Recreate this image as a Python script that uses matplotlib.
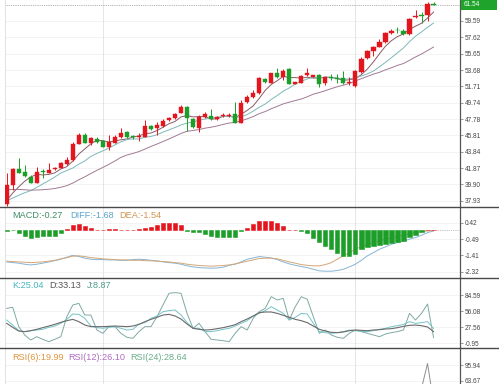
import matplotlib
matplotlib.use("Agg")
import matplotlib.pyplot as plt
import numpy as np
import pandas as pd
from matplotlib.lines import Line2D
from matplotlib.patches import Rectangle

# ---------------- data ----------------
opens = [37.5, 39.85, 41.77, 41.45, 40.85, 40.13, 41.5, 41.33, 41.8, 41.85,
         42.38, 42.86, 44.78, 45.87, 44.94, 45.34, 45.14, 44.46, 44.94, 45.58,
         46.19, 45.7, 45.58, 45.66, 46.99, 46.67, 46.95, 47.67, 47.87, 48.55,
         49.27, 47.79, 46.75, 48.07, 48.15, 47.79, 48.17, 48.15, 48.35, 47.35,
         49.87, 50.48, 50.88, 52.56, 52.16, 53.36, 52.8, 53.76, 52.0, 52.16,
         53.08, 52.88, 53.12, 52.16, 52.84, 52.7, 52.68, 52.08, 51.76, 53.48,
         55.09, 56.0, 56.49, 57.01, 58.1, 58.55, 58.37, 57.97, 60.02, 60.3,
         60.3, 61.62]
highs = [41.25, 41.85, 43.06, 42.25, 41.05, 42.05, 41.77, 42.46, 41.95, 42.66,
         43.26, 45.06, 46.15, 46.15, 45.66, 45.66, 45.26, 45.87, 45.87, 46.67,
         46.39, 45.87, 46.07, 47.67, 47.07, 47.47, 47.79, 47.99, 48.47, 49.47,
         49.35, 47.87, 48.27, 48.67, 48.95, 48.15, 48.47, 48.55, 49.87, 50.07,
         50.68, 51.28, 52.88, 52.68, 53.36, 53.88, 53.76, 53.88, 52.28, 53.08,
         53.88, 53.12, 53.2, 52.88, 53.2, 53.2, 53.6, 52.88, 53.68, 55.2,
         56.09, 56.6, 57.37, 58.26, 58.58, 58.82, 58.58, 59.9, 60.9, 60.7,
         61.9, 61.9]
lows = [37.3, 39.25, 41.25, 40.85, 40.05, 40.05, 40.65, 41.25, 41.65, 41.85,
        42.25, 42.78, 44.78, 44.86, 44.66, 44.94, 44.38, 44.06, 44.86, 45.54,
        45.46, 45.34, 45.18, 45.58, 46.47, 45.87, 46.87, 47.59, 47.79, 48.47,
        46.39, 46.67, 46.27, 47.87, 47.67, 47.67, 48.07, 47.99, 47.27, 47.27,
        49.67, 50.36, 50.8, 52.08, 52.08, 52.68, 52.48, 51.96, 51.96, 52.08,
        52.96, 52.8, 51.6, 51.88, 52.48, 52.08, 52.0, 51.88, 51.6, 53.36,
        54.97, 55.37, 56.41, 56.9, 58.0, 58.17, 57.9, 57.9, 59.9, 59.3,
        59.62, 61.5]
closes = [39.85, 41.77, 41.33, 40.93, 40.13, 41.45, 41.4, 41.65, 41.87, 42.46,
          42.86, 44.78, 45.87, 44.94, 45.54, 45.06, 44.46, 45.06, 45.66, 46.15,
          45.58, 45.62, 45.74, 46.99, 46.55, 47.07, 47.59, 47.87, 48.39, 49.27,
          47.87, 46.79, 48.07, 48.35, 47.75, 48.07, 48.27, 48.27, 47.35, 49.75,
          50.48, 50.96, 52.76, 52.2, 53.28, 52.8, 53.56, 52.0, 52.2, 52.96,
          53.36, 53.04, 52.0, 52.8, 52.76, 52.6, 52.08, 52.28, 53.6, 55.05,
          56.0, 56.41, 57.09, 58.17, 58.42, 58.45, 57.97, 59.78, 60.18, 60.18,
          61.6, 61.54]
# closes before the visible window (feed the moving averages)
prior_closes = [41.5, 41.3, 41.6, 41.2, 41.0, 40.8, 40.5, 40.0, 39.5, 39.0,
                38.5, 38.0, 37.8, 37.6, 37.5, 37.4, 37.6, 37.5, 37.6]
ma_periods = [5, 10, 20]

macd_hist = [-0.02, -0.01, -0.15, -0.30, -0.42, -0.35, -0.33, -0.33, -0.30, -0.15,
             0.05, 0.30, 0.37, 0.22, 0.15, 0.04, 0.0, 0.05, 0.05, 0.04,
             0.02, 0.02, 0.06, 0.15, 0.20, 0.32, 0.39, 0.43, 0.39, 0.30,
             -0.02, -0.07, -0.07, -0.19, -0.32, -0.37, -0.40, -0.40, -0.37, -0.02,
             0.15, 0.37, 0.50, 0.54, 0.50, 0.39, 0.24, 0.04, 0.0, -0.02,
             -0.15, -0.45, -0.68, -0.86, -1.06, -1.27, -1.42, -1.42, -1.32, -1.06,
             -0.95, -0.86, -0.82, -0.75, -0.69, -0.65, -0.62, -0.37, -0.24, -0.12,
             0.02, 0.0]
diff = [-1.77, -1.81, -1.84, -1.90, -1.94, -1.90, -1.84, -1.77, -1.70, -1.62,
        -1.51, -1.40, -1.47, -1.56, -1.62, -1.64, -1.64, -1.66, -1.66, -1.68,
        -1.68, -1.64, -1.62, -1.64, -1.68, -1.71, -1.77, -1.81, -1.84, -1.90,
        -1.99, -2.05, -2.09, -2.11, -2.12, -2.11, -2.07, -1.96, -1.90, -1.77,
        -1.62, -1.55, -1.47, -1.51, -1.55, -1.64, -1.77, -1.88, -1.96, -2.03,
        -2.09, -2.18, -2.27, -2.29, -2.29, -2.25, -2.18, -2.05, -1.90, -1.68,
        -1.43, -1.25, -1.06, -0.93, -0.78, -0.69, -0.60, -0.50, -0.41, -0.28,
        -0.13, -0.04]
dea = [-1.73, -1.75, -1.77, -1.79, -1.81, -1.79, -1.77, -1.73, -1.68, -1.60,
       -1.53, -1.45, -1.43, -1.47, -1.53, -1.56, -1.60, -1.62, -1.64, -1.66,
       -1.66, -1.68, -1.68, -1.70, -1.71, -1.73, -1.75, -1.77, -1.81, -1.84,
       -1.90, -1.94, -1.97, -1.99, -2.01, -1.99, -1.97, -1.94, -1.88, -1.81,
       -1.73, -1.66, -1.58, -1.56, -1.56, -1.60, -1.68, -1.77, -1.84, -1.92,
       -1.96, -1.99, -1.99, -1.92, -1.81, -1.62, -1.43, -1.25, -1.06, -0.91,
       -0.78, -0.69, -0.60, -0.50, -0.43, -0.35, -0.28, -0.20, -0.13, -0.07,
       -0.04, -0.02]

k_vals = [40.0, 31.1, 21.0, 19.3, 21.0, 22.2, 23.4, 27.0, 29.3, 34.1,
          41.2, 50.7, 50.1, 43.0, 29.3, 26.4, 25.2, 27.0, 28.2, 25.2,
          22.2, 23.4, 32.9, 35.3, 43.0, 47.2, 54.9, 56.7, 57.9, 48.9,
          35.3, 25.2, 25.2, 19.3, 19.3, 21.0, 23.4, 25.2, 29.3, 34.1,
          38.8, 47.2, 51.9, 56.7, 63.8, 57.9, 51.9, 40.0, 44.8, 51.9,
          50.7, 34.1, 19.3, 17.5, 16.3, 17.5, 19.3, 22.2, 21.0, 19.8,
          19.3, 21.0, 23.4, 25.2, 28.2, 30.0, 32.3, 37.1, 34.1, 35.3,
          37.1, 25.04]
d_vals = [34.1, 27.0, 20.4, 19.3, 21.0, 23.4, 26.4, 29.3, 32.3, 35.9,
          38.8, 41.2, 37.1, 31.1, 28.2, 28.2, 28.2, 28.8, 29.3, 28.8,
          28.2, 29.3, 32.3, 37.1, 41.2, 44.8, 48.9, 50.1, 47.2, 41.8,
          32.9, 25.2, 23.4, 22.2, 22.8, 24.6, 26.4, 28.8, 31.7, 37.1,
          41.8, 47.2, 53.1, 54.3, 54.3, 51.9, 48.4, 44.8, 41.2, 38.8,
          35.3, 29.3, 23.4, 20.4, 18.1, 17.5, 18.7, 21.0, 22.2, 21.6,
          21.0, 22.2, 22.8, 24.0, 24.6, 26.4, 28.8, 30.5, 31.1, 29.9,
          27.6, 19.3]
j_vals = [60.8, 62.6, 28.2, 13.3, 4.4, 10.3, 5.6, 1.4, 5.6, 10.3,
          46.0, 66.8, 69.7, 48.9, 48.9, 22.2, 16.3, 28.2, 28.2, 16.3,
          9.2, 7.4, 19.3, 28.2, 28.2, 46.0, 66.8, 87.6, 88.8, 87.6,
          51.9, 25.2, 34.1, 19.3, 5.6, 4.4, 3.2, 1.4, 16.3, 28.2,
          22.2, 43.0, 54.9, 60.8, 81.6, 75.7, 78.6, 40.0, 63.8, 81.6,
          76.9, 46.0, 16.3, 22.2, 13.3, 9.2, 7.4, 16.3, 22.2, 19.3,
          16.3, 13.3, 10.3, 15.1, 17.5, 19.3, 22.2, 51.9, 40.0, 51.9,
          68.5, 8.9]

rsi6 = [38, 50, 46, 40, 34, 44, 43, 47, 49, 52, 52, 50, 52, 45, 48, 44, 40, 46,
        49, 51, 45, 45, 46, 50, 46, 49, 51, 52, 52, 52, 38, 33, 44, 47, 42, 45,
        46, 46, 40, 50, 52, 52, 52, 48, 51, 46, 50, 42, 43, 47, 49, 47, 41, 45,
        45, 44, 41, 43, 51, 52, 52, 52, 52, 52, 52, 51, 46, 52, 52, 48, 99, 19.99]
rsi12 = [42, 46, 45, 43, 40, 43, 43, 45, 46, 48, 49, 50, 51, 48, 49, 47, 45, 47,
         48, 49, 47, 47, 47, 49, 48, 49, 50, 50, 51, 51, 45, 42, 45, 46, 44, 45,
         46, 46, 43, 47, 49, 50, 51, 49, 50, 48, 49, 46, 46, 47, 48, 47, 45, 46,
         46, 45, 44, 45, 48, 50, 51, 51, 51, 51, 51, 50, 48, 50, 50, 48, 45, 26.10]
rsi24 = [46, 47, 47, 46, 45, 46, 46, 47, 47, 48, 48, 49, 49, 48, 48, 48, 47, 48,
         48, 48, 48, 48, 48, 48, 48, 49, 49, 49, 49, 49, 47, 46, 47, 47, 46, 47,
         47, 47, 46, 47, 48, 48, 49, 48, 49, 48, 48, 47, 47, 47, 48, 47, 47, 47,
         47, 47, 46, 47, 48, 48, 49, 49, 49, 49, 49, 49, 48, 49, 49, 48, 47, 28.64]

price_ticks = [37.93, 39.90, 41.87, 43.84, 45.81, 47.78, 49.74, 51.71, 53.68,
               55.65, 57.62, 59.59]
macd_ticks = [0.42, -0.49, -1.41, -2.32]
kdj_ticks = [84.59, 56.08, 27.56, -0.95]
rsi_ticks = [95.94, 63.67]
month_marks = [16, 58]

# ---------------- style ----------------
RED = "#e3161e"
GREEN = "#1c9e28"
FONT = "Liberation Sans"
W, H = 499, 384

fig = plt.figure(figsize=(W / 100, H / 100), dpi=100)
fig.patch.set_facecolor("white")

left = 5 / W
width = 455 / W


def make_ax(ytop, ybot):
    return fig.add_axes([left, 1 - ybot / H, width, (ybot - ytop) / H])


ax_p = make_ax(0, 207)
ax_m = make_ax(207, 278)
ax_k = make_ax(278, 348)
ax_r = make_ax(348, 384)

n = len(closes)
x = np.arange(n)
xlim = (-0.28, 75.4)

for ax, ticks in [(ax_p, price_ticks), (ax_m, macd_ticks), (ax_k, kdj_ticks), (ax_r, rsi_ticks)]:
    ax.set_xlim(*xlim)
    ax.set_xticks([])
    ax.yaxis.tick_right()
    ax.set_yticks(ticks)
    ax.set_yticklabels([f"{t:.2f}" for t in ticks], fontsize=4.7, family=FONT, color="#444444")
    ax.tick_params(axis="y", length=2, width=0.5, color="#777777", pad=1.2)
    for s in ["top", "bottom"]:
        ax.spines[s].set_visible(False)
    ax.spines["left"].set_color("#dddddd")
    ax.spines["left"].set_linewidth(0.6)
    ax.spines["right"].set_color("#555555")
    ax.spines["right"].set_linewidth(0.9)
    for t in ticks:
        ax.axhline(t, color="#eeeeee", lw=0.5, zorder=0)
    for m in month_marks:
        ax.axvline(m, color="#e2e2e2", lw=0.6, zorder=0)

# ---------------- price panel ----------------
ax_p.set_ylim(37.19, 62.11)
o = np.array(opens); c = np.array(closes); h = np.array(highs); l = np.array(lows)
up = c >= o
colors = np.where(up, RED, GREEN)
ax_p.vlines(x, l, h, colors=colors, lw=0.7, zorder=2)
body_bot = np.minimum(o, c)
body_h = np.maximum(np.abs(c - o), 0.09)
ax_p.bar(x, body_h, bottom=body_bot, width=0.7, color=colors, edgecolor=colors, lw=0.3, zorder=3)

full = pd.Series(prior_closes + closes)
ma_colors = ["#8a5a66", "#7db8b8", "#a27a95"]
for p, col in zip(ma_periods, ma_colors):
    ma = full.rolling(p).mean().to_numpy()[-n:]
    ax_p.plot(x, ma, color=col, lw=0.7, zorder=1)

last = closes[-1]
ax_p.axhline(last, color="#999999", lw=0.6, ls=(0, (1, 1.2)), zorder=1)
# last-price tag at the right edge
tag_px = ax_p.transData.transform((0, last))[1]
fig.add_artist(Rectangle((461 / W, (tag_px - 5) / H), 36 / W, 10 / H,
                         transform=fig.transFigure, facecolor="#1fa32a",
                         edgecolor="none", zorder=5))
fig.text(463.5 / W, tag_px / H, f"{last:.2f}", ha="left", va="center",
         fontsize=4.7, family=FONT, color="white", zorder=6)

# ---------------- MACD panel ----------------
ax_m.set_ylim(-2.67, 1.30)
hist = np.array(macd_hist)
hcol = np.where(hist >= 0, RED, GREEN)
ax_m.bar(x, hist, width=0.7, color=hcol, edgecolor=hcol, lw=0.4, zorder=3)
ax_m.plot(x, diff, color="#86b4d4", lw=0.7, zorder=2)
ax_m.plot(x, dea, color="#d3a677", lw=0.7, zorder=2)
ax_m.plot([n - 1, xlim[1]], [0, 0], color="#aaaaaa", lw=0.6, ls=(0, (1, 1.2)))

# ---------------- KDJ panel ----------------
ax_k.set_ylim(-9.86, 114.9)
ax_k.plot(x, j_vals, color="#7fa9a4", lw=0.7)
ax_k.plot(x, k_vals, color="#74c4c8", lw=0.7)
ax_k.plot(x, d_vals, color="#6a6a6a", lw=0.8)

# ---------------- RSI panel ----------------
ax_r.set_ylim(56.9, 130.9)
ax_r.plot(x, rsi24, color="#7ab08f", lw=0.7)
ax_r.plot(x, rsi12, color="#b07ac0", lw=0.7)
ax_r.plot(x, rsi6, color="#8e8e8e", lw=0.7)

# ---------------- separators ----------------
for yy in [207, 278, 348]:
    fig.add_artist(Line2D([0, 1], [1 - yy / H, 1 - yy / H], transform=fig.transFigure,
                          color="#4a4a4a", lw=1.0))

# ---------------- indicator captions ----------------
def caption(px, py, text, color):
    fig.text(px / W, 1 - py / H, text, ha="left", va="center", fontsize=6.6,
             family=FONT, color=color)

caption(12, 215, "MACD:-0.27", "#3f8f66")
caption(70, 215, "DIFF:-1.68", "#5aa6cc")
caption(119, 215, "DEA:-1.54", "#d0944f")
caption(12, 286, "K:25.04", "#45b6bd")
caption(49, 286, "D:33.13", "#555555")
caption(87, 286, "J:8.87", "#4f9c8c")
caption(12, 357, "RSI(6):19.99", "#dd953f")
caption(68, 357, "RSI(12):26.10", "#b06cc2")
caption(130, 357, "RSI(24):28.64", "#6aae8a")

fig.savefig("out.png", dpi=100, facecolor="white")
